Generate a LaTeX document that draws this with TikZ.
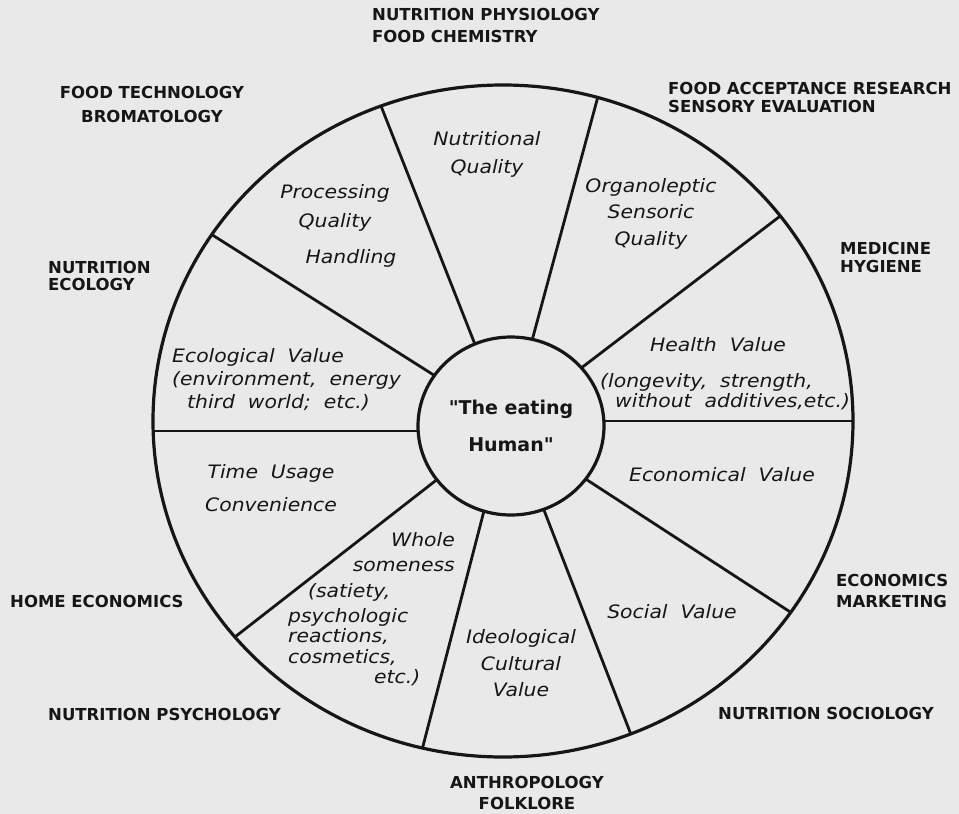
\documentclass[tikz,border=0pt]{standalone}
\usepackage{fontspec}
\usetikzlibrary{shapes.geometric}
\newfontfamily\fieldfont{DejaVu Sans}
\newfontfamily\valuefont{DejaVu Sans}[FakeStretch=1.1, ItalicFont={DejaVu Sans Oblique}]
\definecolor{paper}{RGB}{233,233,233}
\definecolor{ink}{RGB}{22,22,22}
\begin{document}
\begin{tikzpicture}[x=1pt,y=-1pt,
  field/.style={font=\fieldfont\bfseries\fontsize{16.5}{19}\selectfont, text=ink, inner sep=0pt, align=left},
  value/.style={font=\valuefont\itshape\fontsize{18.5}{26}\selectfont, text=ink, inner sep=0pt, align=center},
  spoke/.style={draw=ink, line width=2.8pt},
  hubstyle/.style={ellipse, draw=ink, line width=3.2pt, fill=paper, minimum width=186pt, minimum height=178pt, inner sep=0pt, align=center, text=ink, font=\fieldfont\bfseries\fontsize{19}{37}\selectfont},
  wheelstyle/.style={ellipse, draw=ink, line width=3.2pt, minimum width=700pt, minimum height=672pt, inner sep=0pt}]
\fill[paper] (0,0) rectangle (959,814);
\useasboundingbox (0,0) rectangle (959,814);
% spoke end points
\coordinate (in1) at (478,352);  \coordinate (out1) at (381,106);
\coordinate (in2) at (530,348);  \coordinate (out2) at (597.7,97.5);
\coordinate (in3) at (576,372);  \coordinate (out3) at (780.3,216);
\coordinate (in4) at (598,421);  \coordinate (out4) at (853,421);
\coordinate (in5) at (581,476);  \coordinate (out5) at (790.7,612.3);
\coordinate (in6) at (542,505);  \coordinate (out6) at (630.7,733.8);
\coordinate (in7) at (485,507);  \coordinate (out7) at (422.5,748);
\coordinate (in8) at (439,478);  \coordinate (out8) at (234.9,637);
\coordinate (in9) at (426,431);  \coordinate (out9) at (153.2,431);
\coordinate (in10) at (440,379); \coordinate (out10) at (211.8,234.6);
\foreach \spk in {1,...,10} \draw[spoke] (in\spk) -- (out\spk);
\node[hubstyle] (hub) at (511,426) {"The eating\\Human"};
\node[wheelstyle] (wheel) at (503,421) {};
% disciplines
\node[field, anchor=west] (physio) at (372,25) {NUTRITION PHYSIOLOGY\\[3pt]FOOD CHEMISTRY};
\node[field, align=center] (tech) at (152,104) {FOOD TECHNOLOGY\\[5pt]BROMATOLOGY};
\node[field, anchor=west] (sensory) at (668,97) {FOOD ACCEPTANCE RESEARCH\\[-1pt]SENSORY EVALUATION};
\node[field, anchor=west] (ecol) at (48,275.5) {NUTRITION\\[-2pt]ECOLOGY};
\node[field, anchor=west] (medicine) at (840,257) {MEDICINE\\[-1pt]HYGIENE};
\node[field, anchor=west] (home) at (10,601) {HOME ECONOMICS};
\node[field, anchor=west] (econ) at (836,590.5) {ECONOMICS\\[2pt]MARKETING};
\node[field, anchor=west] (psych) at (48,714) {NUTRITION PSYCHOLOGY};
\node[field, anchor=west] (socio) at (718,713) {NUTRITION SOCIOLOGY};
\node[field, align=center] (anthro) at (527,793) {ANTHROPOLOGY\\[2pt]FOLKLORE};
% values
\node[value] (nutq) at (487,154) {Nutritional\\[2pt]Quality};
\node[value] (procq) at (335,207.5) {Processing\\[3pt]Quality};
\node[value] (handling) at (351,258) {Handling};
\node[value, align=left, anchor=west] (ecoval) at (172,380) {Ecological~~Value\\[-3pt](environment,~~energy\\[-3pt]\hspace*{15pt}third~~world;~~etc.)};
\node[value] (organo) at (651,213.5) {Organoleptic\\[0.5pt]Sensoric\\[0.5pt]Quality};
\node[value] (health) at (718,345) {Health~~Value};
\node[value, align=left, anchor=west] (healthx) at (600,392) {(longevity,~~strength,\\[-6pt]\hspace*{15pt}without~~additives,etc.)};
\node[value] (econval) at (722,475) {Economical~~Value};
\node[value] (social) at (672,612) {Social~~Value};
\node[value] (ideo) at (521,663.5) {Ideological\\[0.5pt]Cultural\\[0.5pt]Value};
\node[value] (time) at (271,488.5) {Time~~Usage\\[7pt]Convenience};
\node[value, align=right, anchor=east] (whole) at (455,552.5) {Whole\\[-1pt]someness};
\node[value, align=left, anchor=west] (satiety) at (288,635) {\hspace*{20pt}(satiety,\\[-1pt]psychologic\\[-6pt]reactions,\\[-5pt]cosmetics,\\[-6pt]\hspace*{86pt}etc.)};
\end{tikzpicture}
\end{document}
